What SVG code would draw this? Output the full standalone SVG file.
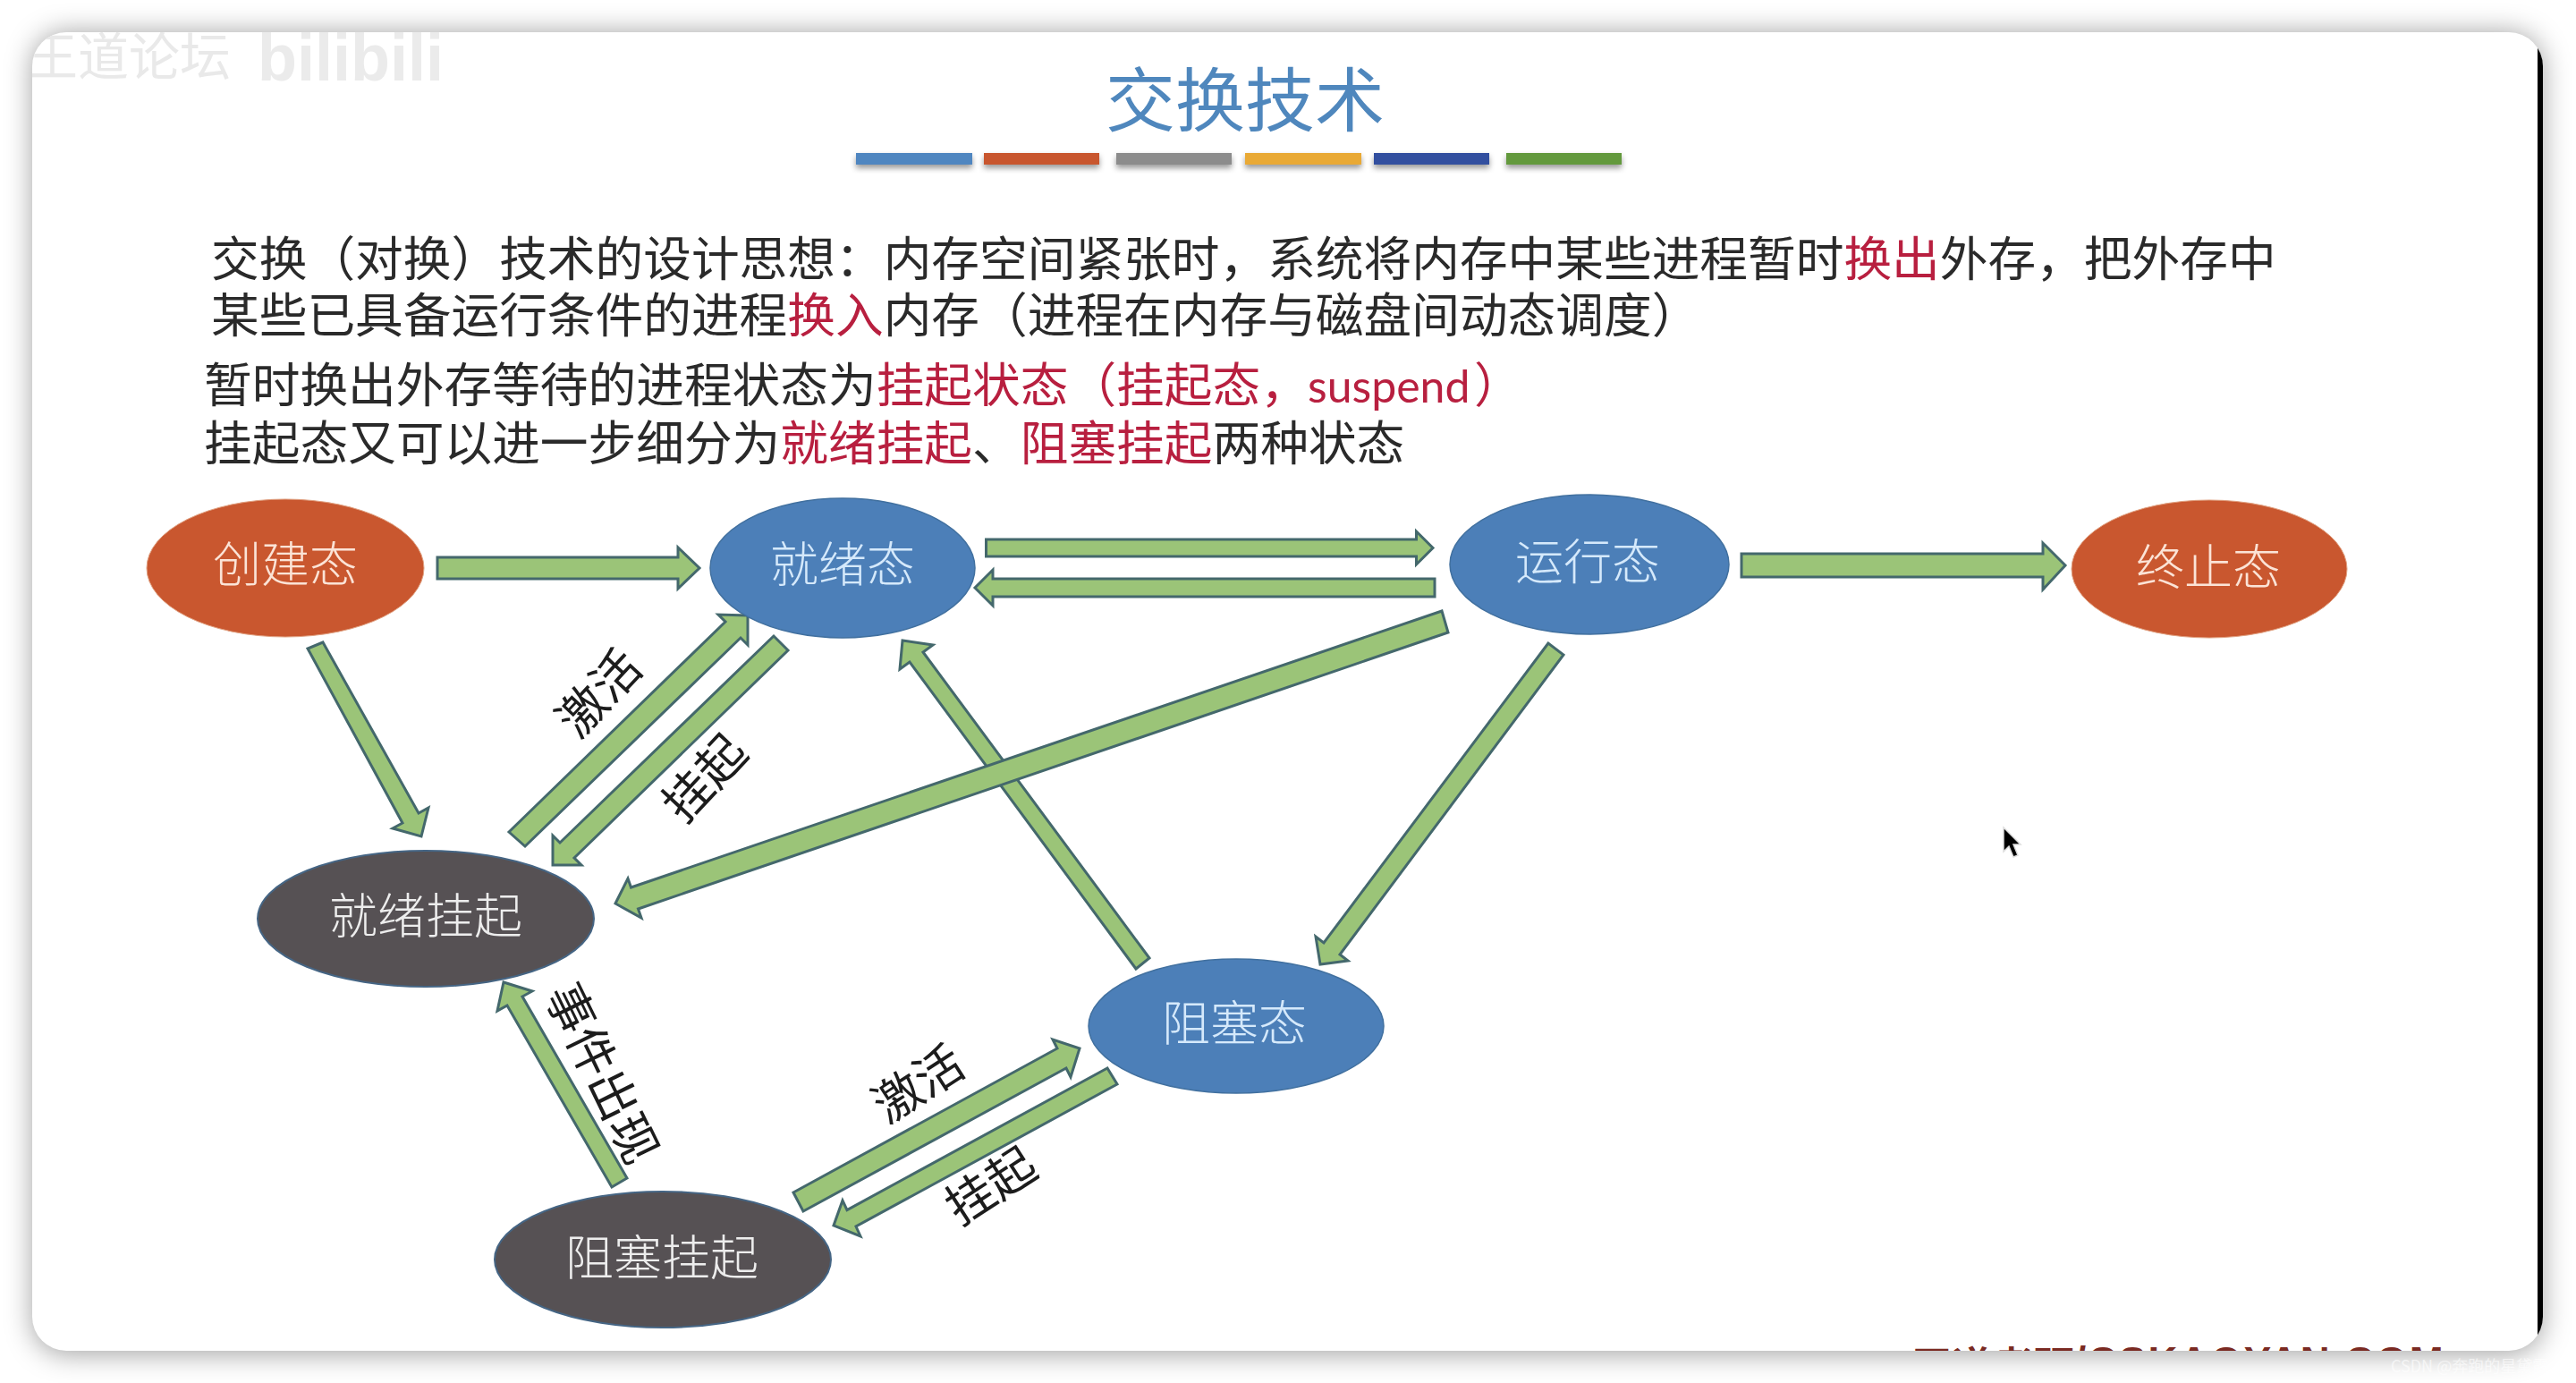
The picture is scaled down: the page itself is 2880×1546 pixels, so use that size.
<svg xmlns="http://www.w3.org/2000/svg" width="2880" height="1546" viewBox="0 0 2880 1546">
<style>
text{font-family:"Noto Sans CJK SC","Noto Sans",sans-serif;font-weight:400}
.body{font-size:53.7px;fill:#2a2a2a}
.red{fill:#b81f3f}
.lab{font-size:54px;fill:#1c1c1c;text-anchor:middle}
.nt{font-size:54px;text-anchor:middle;font-weight:300}
.arrow{fill:#9bc478;stroke:#44686c;stroke-width:3;stroke-linejoin:miter}
.bar{filter:url(#barShadow)}
.blue{fill:#4c7fb8;stroke:#41709f;stroke-width:1.5}
.orange{fill:#c9572f;stroke:#e0a080;stroke-width:1}
.gray{fill:#565154;stroke:#456584;stroke-width:2}
</style>
<defs>
<clipPath id="win"><rect x="36" y="36" width="2807" height="1474" rx="38"/></clipPath>
<filter id="winShadow" filterUnits="userSpaceOnUse" x="-60" y="-60" width="3000" height="1670"><feGaussianBlur stdDeviation="15"/></filter>
<filter id="barShadow" x="-5%" y="-30%" width="110%" height="200%"><feDropShadow dx="0" dy="4" stdDeviation="3" flood-color="#000" flood-opacity="0.4"/></filter>
</defs>
<rect width="2880" height="1546" fill="#fff"/>
<rect x="36" y="36" width="2807" height="1478" rx="38" fill="#000" fill-opacity="0.36" filter="url(#winShadow)"/>
<g clip-path="url(#win)">
<rect x="36" y="36" width="2807" height="1474" fill="#fff"/>
<rect x="2837" y="36" width="6" height="1474" fill="#000"/>
<text x="30" y="84" font-size="57" fill="#e9e9e9">王道论坛</text>
<text x="288" y="90" font-size="74" fill="#ebebeb" style="font-family:'Liberation Sans',sans-serif;font-weight:700" textLength="208" lengthAdjust="spacingAndGlyphs">bilibili</text>
<text x="2137" y="1544" font-size="45.6" fill="#7a2a22" style="font-family:'Noto Sans CJK SC','Liberation Sans',sans-serif;font-weight:700">王道考研<tspan style="font-family:'Liberation Sans',sans-serif" y="1538" letter-spacing="2">/CSKAOYAN.COM</tspan></text>
</g>
<text x="2673" y="1534" font-size="18" fill="#fff" fill-opacity="0.6">CSDN @奔跑的星黛露</text>

<g id="title">
<text x="1392" y="141" font-size="78" text-anchor="middle" fill="#4f87bd">交换技术</text>
<rect class="bar" x="957" y="171" width="130" height="13" fill="#4f86c0"/>
<rect class="bar" x="1100" y="171" width="129" height="13" fill="#c8562f"/>
<rect class="bar" x="1248" y="171" width="129" height="13" fill="#8c8c8c"/>
<rect class="bar" x="1392" y="171" width="130" height="13" fill="#e9a935"/>
<rect class="bar" x="1536" y="171" width="129" height="13" fill="#33509f"/>
<rect class="bar" x="1684" y="171" width="129" height="13" fill="#64993c"/>
</g>

<g id="description">
<text class="body" x="236" y="309">交换（对换）技术的设计思想：内存空间紧张时，系统将内存中某些进程暂时<tspan class="red">换出</tspan>外存，把外存中</text>
<text class="body" x="236" y="372">某些已具备运行条件的进程<tspan class="red">换入</tspan>内存（进程在内存与磁盘间动态调度）</text>
<text class="body" x="228" y="450">暂时换出外存等待的进程状态为<tspan class="red">挂起状态（挂起态，</tspan><tspan class="red" x="1462" style="font-family:Lato,sans-serif;font-weight:400;font-size:50px">suspend</tspan><tspan class="red" x="1648">）</tspan></text>
<text class="body" x="228" y="515">挂起态又可以进一步细分为<tspan class="red">就绪挂起</tspan>、<tspan class="red">阻塞挂起</tspan>两种状态</text>
</g>

<g id="connectors">
<polygon class="arrow" points="489,623 758,623 758,612 782,635 758,658 758,647 489,647"/>
<polygon class="arrow" points="1102.500,603 1583.500,603 1583.500,594 1602,612.500 1583.500,631 1583.500,622 1102.500,622"/>
<polygon class="arrow" points="1604,647 1110,647 1110,637 1090,657 1110,677 1110,667 1604,667"/>
<polygon class="arrow" points="1947,619 2284,619 2284,607 2309,632 2284,659 2284,645 1947,645"/>
<polygon class="arrow" points="1285,1071 1032,729 1043,721 1009,716 1006,748 1017,740 1270,1083"/>
<polygon class="arrow" points="1612,683 705.500,992 702,982 688,1010 717,1026 713.500,1016 1619,707"/>
<polygon class="arrow" points="1731,719 1480,1054 1471,1047 1476,1078 1507,1074 1498,1067 1748,732"/>
<polygon class="arrow" points="361,718 468,909 479,903 471,935 439,926 450,920 344,725"/>
<polygon class="arrow" points="569,930 811,695 803,687 836,688 836,721 828,713 587,946"/>
<polygon class="arrow" points="865,711 626,942 618,934 618,967 650,967 642,959 881,727"/>
<polygon class="arrow" points="701,1317 584,1114 595,1108 563,1098 556,1130 567,1124 684,1327"/>
<polygon class="arrow" points="887,1333 1182,1172 1177,1162 1207,1172 1197,1204 1192,1194 898,1354"/>
<polygon class="arrow" points="1238,1194 947,1352.600 942,1342 932,1370 962,1382 957,1371 1249,1212"/>
<text class="lab" transform="translate(670,775) rotate(-47)" y="19">激活</text>
<text class="lab" transform="translate(788,870) rotate(-47)" y="19">挂起</text>
<text class="lab" transform="translate(673,1200) rotate(64)" y="19">事件出现</text>
<text class="lab" transform="translate(1027,1212) rotate(-33)" y="19">激活</text>
<text class="lab" transform="translate(1108,1326) rotate(-33)" y="19">挂起</text>
</g>

<g id="node-create"><ellipse class="orange" cx="319" cy="635" rx="155" ry="77"/><text class="nt" x="319" y="651" fill="#fbe3d6">创建态</text></g>
<g id="node-ready"><ellipse class="blue" cx="942" cy="635" rx="148" ry="78"/><text class="nt" x="942" y="651" fill="#d5e9fb">就绪态</text></g>
<g id="node-running"><ellipse class="blue" cx="1777" cy="631" rx="156" ry="78"/><text class="nt" x="1775" y="648" fill="#d5e9fb">运行态</text></g>
<g id="node-exit"><ellipse class="orange" cx="2470" cy="636" rx="154" ry="77"/><text class="nt" x="2469" y="654" fill="#fbe3d6">终止态</text></g>
<g id="node-ready-suspend"><ellipse class="gray" cx="476" cy="1027" rx="188" ry="76"/><text class="nt" x="476" y="1044" fill="#ededed">就绪挂起</text></g>
<g id="node-blocked"><ellipse class="blue" cx="1382" cy="1147" rx="165" ry="75"/><text class="nt" x="1380" y="1164" fill="#d5e9fb">阻塞态</text></g>
<g id="node-blocked-suspend"><ellipse class="gray" cx="741" cy="1408" rx="188" ry="76"/><text class="nt" x="740" y="1426" fill="#ededed">阻塞挂起</text></g>

<polygon points="2240,925 2240,952 2246,946 2251,958 2256,956 2251,944 2259,944" fill="#000" stroke="#ddd" stroke-width="1.5"/>
</svg>
